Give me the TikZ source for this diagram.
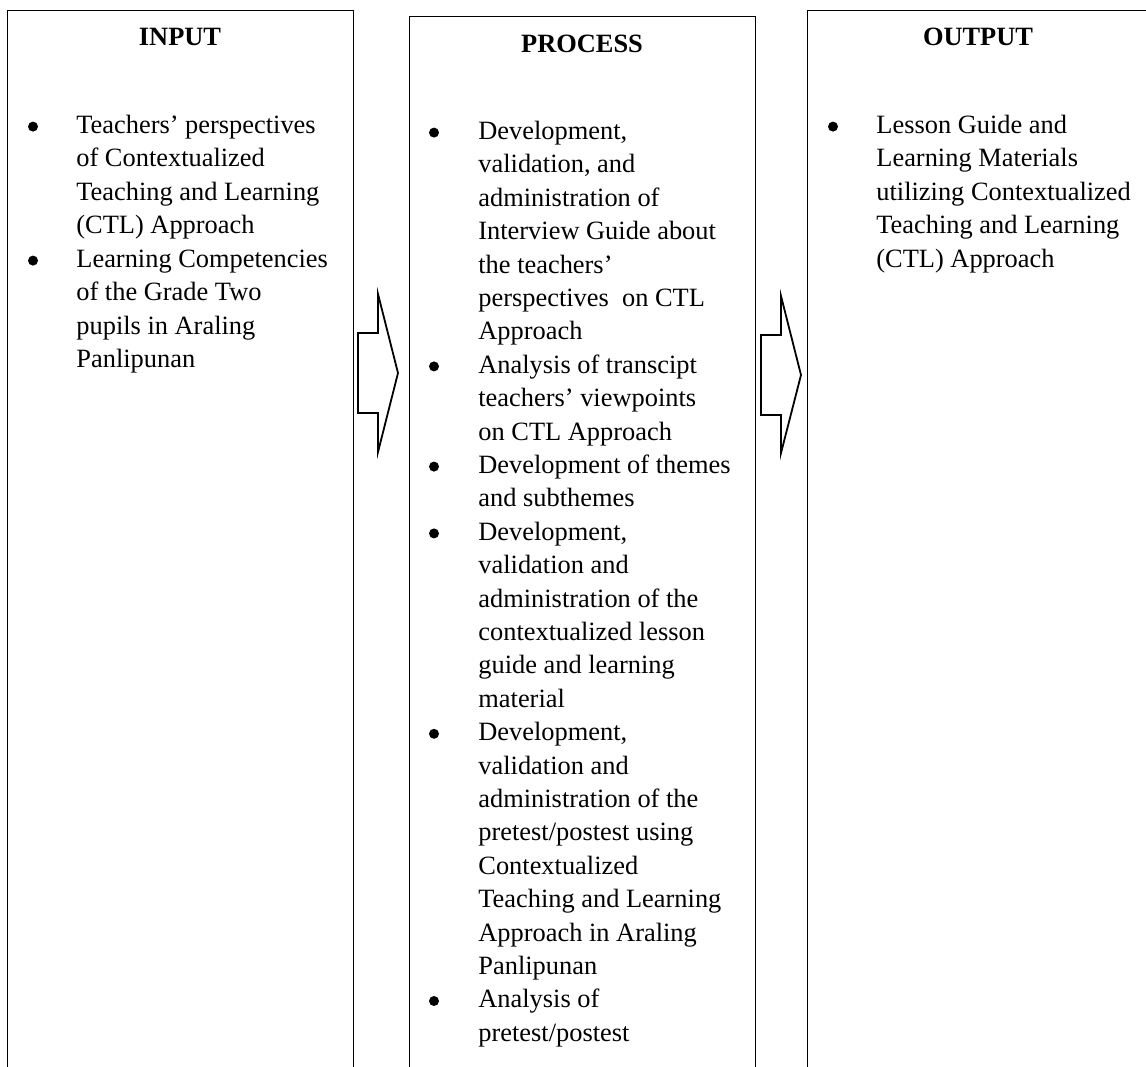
\documentclass[tikz,border=0pt]{standalone}
\usepackage{fontspec}
\setmainfont{Liberation Serif}
\tikzset{
  txt/.style={font=\fontsize{13.2}{16.7}\selectfont, inner sep=0pt},
  box/.style={draw, line width=0.6pt, inner sep=0pt, anchor=north west},
  head/.style={txt, font=\fontsize{13.2}{16.7}\selectfont\bfseries, anchor=base},
  item/.style={txt, anchor=north west, yshift=11.69pt, align=left},
  bul/.style={circle, fill=black, inner sep=0pt, minimum size=5pt, yshift=3.2pt},
  blockarrow/.style={draw, line width=0.9pt, fill=white, line join=miter}
}
\begin{document}
\begin{tikzpicture}[x=0.5pt, y=-0.5pt]
\useasboundingbox (0,0) rectangle (1146,1066);
% boxes
\node[box, minimum width=173pt, minimum height=528.5pt] (input) at (7,10) {};
\node[box, minimum width=173pt, minimum height=525.5pt] (process) at (409,16) {};
\node[box, minimum width=170pt, minimum height=528.5pt] (output) at (807,10) {};
% block arrows
\draw[blockarrow] (358,333) -- (378,333) -- (378,294) -- (398,373) -- (378,452) -- (378,413) -- (358,413) -- cycle;
\draw[blockarrow] (761,335) -- (781,335) -- (781,296) -- (801,375) -- (781,453) -- (781,415) -- (761,415) -- cycle;
% headings
\node[head] (hin) at (180,45) {INPUT};
\node[head] (hpr) at (582,52) {PROCESS};
\node[head] (hout) at (978,45) {OUTPUT};
% INPUT items
\node[bul] (bi1) at (33,133) {};
\node[item] (i1) at (76,133) {\strut Teachers’ perspectives\\of Contextualized\\Teaching and Learning\\(CTL) Approach};
\node[bul] (bi2) at (33,267) {};
\node[item] (i2) at (76,267) {\strut Learning Competencies\\of the Grade Two\\pupils in Araling\\Panlipunan};
% PROCESS items
\node[bul] (bp1) at (434,139) {};
\node[item] (p1) at (478,139) {\strut Development,\\validation, and\\administration of\\Interview Guide about\\the teachers’\\perspectives\ \ on CTL\\Approach};
\node[bul] (bp2) at (434,372.8) {};
\node[item] (p2) at (478,372.8) {\strut Analysis of transcipt\\teachers’ viewpoints\\on CTL Approach};
\node[bul] (bp3) at (434,473) {};
\node[item] (p3) at (478,473) {\strut Development of themes\\and subthemes};
\node[bul] (bp4) at (434,539.8) {};
\node[item] (p4) at (478,539.8) {\strut Development,\\validation and\\administration of the\\contextualized lesson\\guide and learning\\material};
\node[bul] (bp5) at (434,740.2) {};
\node[item] (p5) at (478,740.2) {\strut Development,\\validation and\\administration of the\\pretest/postest using\\Contextualized\\Teaching and Learning\\Approach in Araling\\Panlipunan};
\node[bul] (bp6) at (434,1007.4) {};
\node[item] (p6) at (478,1007.4) {\strut Analysis of\\pretest/postest};
% OUTPUT items
\node[bul] (bo1) at (833,133) {};
\node[item] (o1) at (876,133) {\strut Lesson Guide and\\Learning Materials\\utilizing Contextualized\\Teaching and Learning\\(CTL) Approach};
\end{tikzpicture}
\end{document}
